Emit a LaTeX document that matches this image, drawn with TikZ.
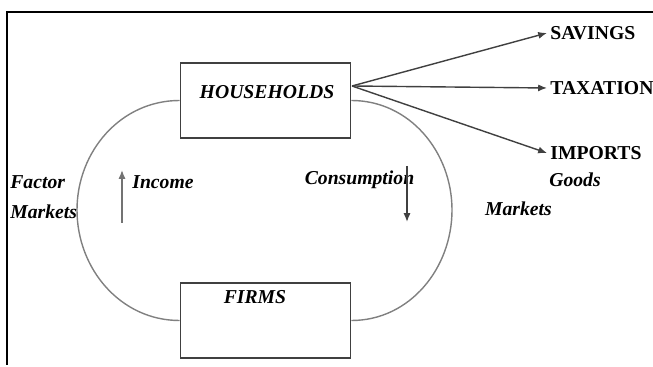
\documentclass[tikz,border=0pt]{standalone}
\usepackage{fontspec}
\setmainfont{Liberation Serif}
\usetikzlibrary{arrows.meta}

\begin{document}
\begin{tikzpicture}[
    sector/.style={draw=black!75, line width=1.1pt, minimum width=3.4cm, minimum height=1.5cm},
    tag/.style={font=\fontsize{11.2}{13}\selectfont\bfseries\itshape, inner sep=0pt},
    leak/.style={font=\fontsize{11.2}{13}\selectfont\bfseries, anchor=west, inner sep=0.06cm},
    flow/.style={draw=black!50, line width=0.8pt},
    outflow/.style={draw=black!75, line width=0.8pt, -{Latex[length=5pt, width=4pt]}}
  ]
  \useasboundingbox (0, 0) rectangle (13.06, 7.34);
  % frame
  \draw [line width=1pt] (0.14, 0.04) -- (0.14, 7.10) -- (13.06, 7.10);
  % sectors
  \node [sector] (households) at (5.31, 5.33) {};
  \node [sector] (firms) at (5.31, 0.93) {};
  \node [tag] (hhname) at (5.34, 5.50) {HOUSEHOLDS};
  \node [tag] (firmsname) at (5.10, 1.40) {FIRMS};
  % circular flow
  \coordinate (leftbend) at (1.54, 3.14);
  \coordinate (rightbend) at (9.04, 3.14);
  \draw [flow] (households.west) to [out=180, in=90] (leftbend) to [out=270, in=180] (firms.west);
  \draw [flow] (households.east) to [out=0, in=90] (rightbend) to [out=270, in=0] (firms.east);
  % leakages
  \coordinate (hhout) at (7.04, 5.62);
  \node [leak] (savings) at (10.94, 6.68) {SAVINGS};
  \node [leak] (taxation) at (10.94, 5.58) {TAXATION};
  \node [leak] (imports) at (10.94, 4.28) {IMPORTS};
  \draw [outflow] (hhout) -- (savings.west);
  \draw [outflow] (hhout) -- (taxation.west);
  \draw [outflow] (hhout) -- (imports.west);
  % market labels
  \node [tag, anchor=west] (factor) at (0.2, 3.70) {Factor};
  \node [tag, anchor=west] (factormkt) at (0.2, 3.10) {Markets};
  \node [tag] (goods) at (11.5, 3.74) {Goods};
  \node [tag] (goodsmkt) at (10.37, 3.16) {Markets};
  % income and spending
  \coordinate (incomefrom) at (2.44, 2.88);
  \coordinate (incometo) at (2.44, 3.94);
  \node [tag, anchor=west] (income) at (2.64, 3.70) {Income};
  \draw [outflow, draw=black!55] (incomefrom) -- (incometo);
  \node [tag] (consumption) at (7.19, 3.74) {Consumption};
  \coordinate (spendfrom) at (8.14, 4.02);
  \coordinate (spendto) at (8.14, 2.90);
  \draw [outflow] (spendfrom) -- (spendto);
\end{tikzpicture}
\end{document}
